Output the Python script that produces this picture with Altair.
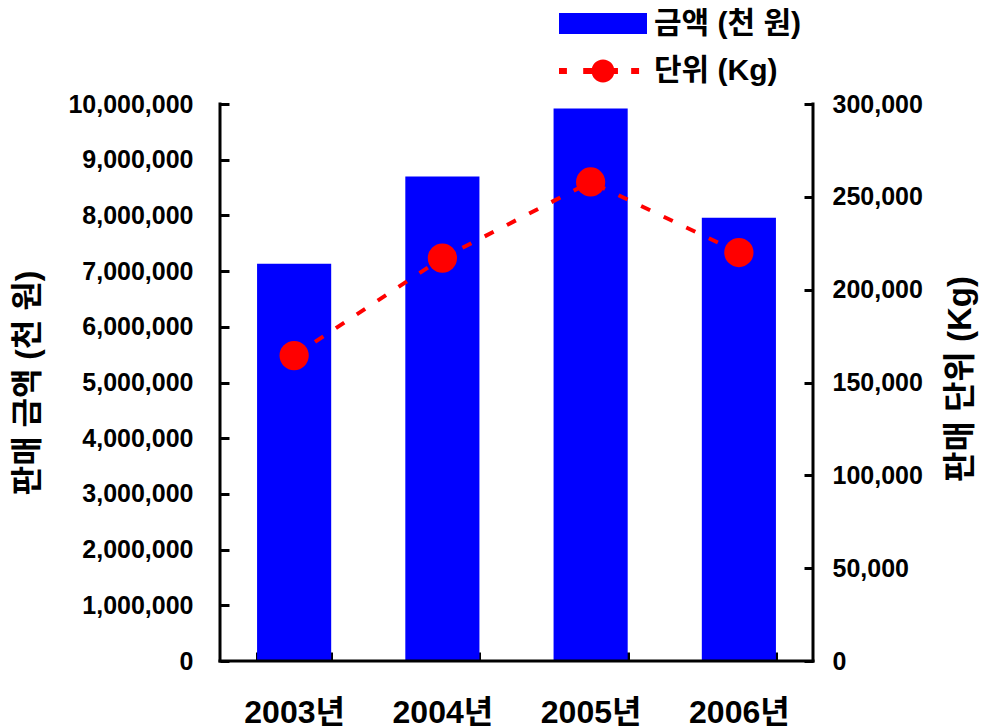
import altair as alt
import pandas as pd

# 연도별 판매 실적
years = ["2003년", "2004년", "2005년", "2006년"]
amount = [7130000, 8700000, 9920000, 7960000]   # 판매 금액 (천 원)
units = [164500, 217000, 258000, 220000]         # 판매 단위 (Kg)

amount_ticks = list(range(0, 10_000_001, 1_000_000))
unit_ticks = list(range(0, 300_001, 50_000))

series = ["금액 (천 원)", "단위 (Kg)"]
series_colors = ["#0000ff", "#ff0000"]

FONT = "Liberation Sans, Noto Sans CJK KR"
W, H = 593, 557
TICK = 9  # inward tick length

# legend symbols (unit square -1..1): a wide bar, and a dashed line with a dot
RECT_PATH = "M-1,-0.24H1V0.24H-1Z"
LINE_PATH = (
    "M-1,-0.07H-0.82V0.07H-1Z"
    "M-0.45,-0.07H-0.2V0.07H-0.45Z"
    "M0.2,-0.07H0.34V0.07H0.2Z"
    "M0.64,-0.07H0.82V0.07H0.64Z"
    "M-0.26,0A0.26,0.26,0,1,1,0.26,0A0.26,0.26,0,1,1,-0.26,0Z"
)

df = pd.DataFrame({"year": years, "amount": amount, "units": units})

x_enc = alt.X(
    "year:N",
    sort=years,
    title=None,
    scale=alt.Scale(paddingInner=0.5, paddingOuter=0.25),
    axis=alt.Axis(
        domain=False,
        tickBand="extent",
        tickSize=TICK,
        tickWidth=3,
        offset=-TICK,
        labelAngle=0,
        labelFontSize=32,
        labelPadding=36,
    ),
)

y_left = alt.Y(
    "amount:Q",
    scale=alt.Scale(domain=[0, 10_000_000], nice=False),
    axis=alt.Axis(
        orient="left",
        values=amount_ticks,
        format=",d",
        domain=False,
        tickSize=TICK,
        tickWidth=3,
        offset=-TICK,
        labelPadding=27,
        labelFontSize=25,
        title="판매 금액 (천 원)",
        titleFontSize=32,
        titleAngle=270,
        titleAlign="center",
        titleBaseline="middle",
        titleX=-201.5,
        titleY=H / 2,
    ),
)

y_right = alt.Y(
    "units:Q",
    scale=alt.Scale(domain=[0, 300_000], nice=False),
    axis=alt.Axis(
        orient="right",
        values=unit_ticks,
        format=",d",
        domain=False,
        tickSize=TICK,
        tickWidth=3,
        offset=-TICK,
        labelPadding=19,
        labelFontSize=25,
        title="판매 단위 (Kg)",
        titleFontSize=33,
        titleAngle=270,
        titleAlign="center",
        titleBaseline="middle",
        titleX=156,
        titleY=H / 2 - 4,
    ),
)

legend = alt.Legend(
    title=None,
    orient="none",
    legendX=339,
    legendY=-97.5,
    direction="vertical",
    padding=0,
    symbolSize=7744,
    symbolStrokeWidth=0,
    symbolOpacity=1,
    clipHeight=34,
    rowPadding=13.5,
    labelOffset=7,
    labelFont=FONT,
    labelFontSize=30,
    labelFontWeight="bold",
    labelColor="black",
    labelLimit=400,
)

bars = alt.Chart(df).mark_bar(color="#0000ff").encode(x=x_enc, y=y_left)

line = alt.Chart(df).mark_line(
    color="#ff0000", strokeWidth=4, strokeDash=[10, 15]
).encode(x=x_enc, y=y_right)

points = alt.Chart(df).mark_point(
    filled=True, shape="circle", color="#ff0000", size=855, opacity=1
).encode(x=x_enc, y=y_right)

units_layer = alt.layer(line, points)

# key for the two series: colour and symbol share one legend
key = (
    alt.Chart(pd.DataFrame({"series": series}))
    .transform_filter("false")
    .mark_point(filled=True, opacity=1)
    .encode(
        color=alt.Color(
            "series:N", scale=alt.Scale(domain=series, range=series_colors), legend=legend
        ),
        shape=alt.Shape(
            "series:N", scale=alt.Scale(domain=series, range=[RECT_PATH, LINE_PATH]), legend=legend
        ),
    )
)

# axis lines: left, right and bottom edges of the plot
edge = alt.Chart(pd.DataFrame({"edge": [0]}))
rule_style = dict(color="black", strokeWidth=3, strokeCap="square")
left_line = edge.mark_rule(**rule_style).encode(
    x=alt.value(0), y=alt.value(0), y2=alt.value(H)
)
right_line = edge.mark_rule(**rule_style).encode(
    x=alt.value(W), y=alt.value(0), y2=alt.value(H)
)
bottom_line = edge.mark_rule(**rule_style).encode(
    x=alt.value(0), x2=alt.value(W), y=alt.value(H)
)

chart = (
    alt.layer(bars, units_layer, key, left_line, right_line, bottom_line)
    .resolve_scale(y="independent")
    .properties(
        width=W,
        height=H,
        autosize=alt.AutoSizeParams(type="none"),
        padding={"left": 220, "top": 104, "right": 173, "bottom": 67},
    )
    .configure_view(stroke=None)
    .configure_axis(
        grid=False,
        labelFont=FONT,
        titleFont=FONT,
        labelFontWeight="bold",
        titleFontWeight="bold",
        labelColor="black",
        titleColor="black",
        tickColor="black",
    )
)

chart.save("out.html", embed_options={"renderer": "svg", "actions": False})
